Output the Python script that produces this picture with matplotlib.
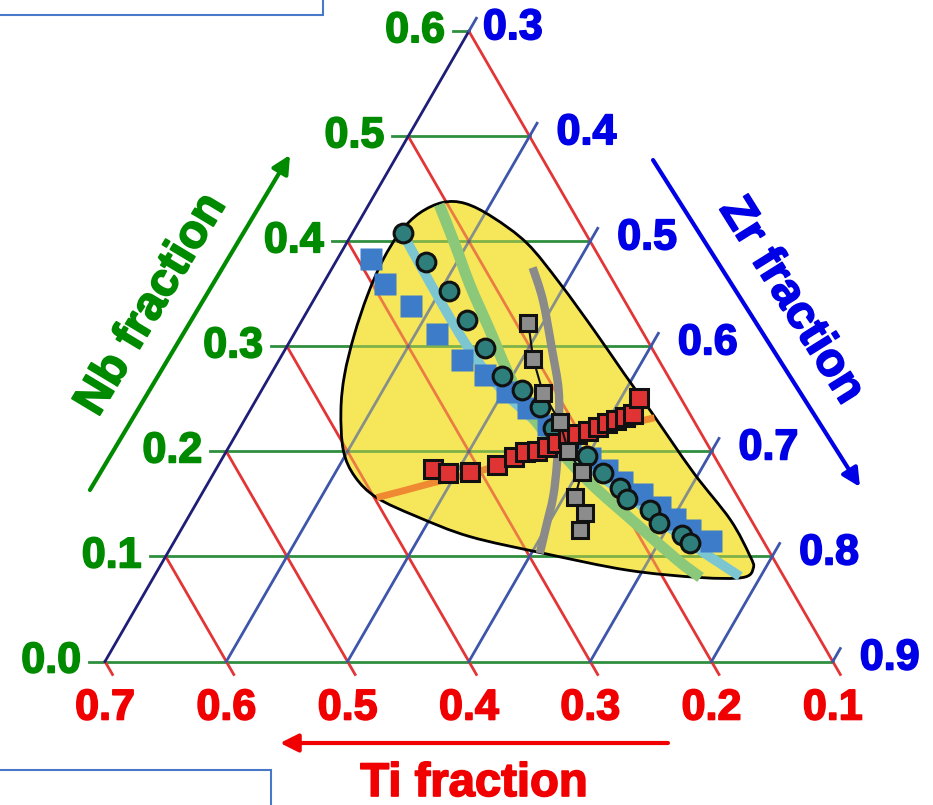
import numpy as np
import matplotlib.pyplot as plt
import matplotlib.patheffects as pe
from matplotlib.path import Path
from matplotlib.patches import PathPatch, Rectangle, FancyArrowPatch

plt.rcParams['font.family'] = ['Liberation Sans', 'DejaVu Sans']

# axis ticks (fractions)
ti_ticks = [0.7, 0.6, 0.5, 0.4, 0.3, 0.2, 0.1]
nb_ticks = [0.0, 0.1, 0.2, 0.3, 0.4, 0.5, 0.6]
zr_ticks = [0.3, 0.4, 0.5, 0.6, 0.7, 0.8, 0.9]

# compositions are given as (Ti, Nb); Zr is the balance
region_ti = [0.203, 0.185, 0.169, 0.153, 0.145, 0.139, 0.135, 0.131, 0.125, 0.117,
             0.118, 0.121, 0.134, 0.170, 0.226, 0.287, 0.340, 0.374, 0.398, 0.406,
             0.403, 0.386, 0.366, 0.339, 0.309, 0.280, 0.252, 0.227]
region_nb = [0.437, 0.436, 0.423, 0.398, 0.360, 0.314, 0.274, 0.239, 0.180, 0.135,
             0.101, 0.089, 0.080, 0.080, 0.087, 0.103, 0.119, 0.138, 0.156, 0.176,
             0.201, 0.239, 0.273, 0.311, 0.349, 0.382, 0.409, 0.427]

cyan_ti = [0.251, 0.252, 0.251, 0.244, 0.229, 0.208, 0.184, 0.160, 0.136]
cyan_nb = [0.406, 0.344, 0.297, 0.260, 0.225, 0.184, 0.149, 0.111, 0.081]

green_ti = [0.207, 0.213, 0.220, 0.225, 0.230, 0.232, 0.226, 0.215, 0.197, 0.180, 0.169]
green_nb = [0.435, 0.397, 0.358, 0.316, 0.278, 0.244, 0.206, 0.170, 0.132, 0.097, 0.080]

gray_ti = [0.160, 0.167, 0.183, 0.197, 0.216, 0.234, 0.252, 0.271, 0.290]
gray_nb = [0.375, 0.344, 0.297, 0.258, 0.220, 0.187, 0.157, 0.130, 0.103]

orange_ti = [0.398, 0.371, 0.345, 0.309, 0.281, 0.242, 0.183, 0.131]
orange_nb = [0.156, 0.163, 0.170, 0.179, 0.187, 0.199, 0.219, 0.232]

circ_ti = [0.250, 0.245, 0.240, 0.239, 0.238, 0.237, 0.227, 0.220, 0.220, 0.205,
           0.200, 0.193, 0.192, 0.179, 0.177, 0.164, 0.161]
circ_nb = [0.408, 0.380, 0.353, 0.325, 0.298, 0.272, 0.258, 0.242, 0.222, 0.196,
           0.179, 0.165, 0.155, 0.144, 0.132, 0.120, 0.113]

bsq_ti = [0.289, 0.290, 0.279, 0.270, 0.262, 0.250, 0.240, 0.231, 0.222, 0.212,
          0.203, 0.195, 0.188, 0.178, 0.169, 0.162, 0.155, 0.143]
bsq_nb = [0.383, 0.359, 0.338, 0.312, 0.287, 0.273, 0.257, 0.241, 0.225, 0.209,
          0.194, 0.182, 0.171, 0.159, 0.147, 0.136, 0.125, 0.115]

rsq_ti = [0.338, 0.328, 0.309, 0.283, 0.265, 0.254, 0.244, 0.234, 0.223, 0.212,
          0.202, 0.192, 0.182, 0.173, 0.164, 0.155, 0.147, 0.134]
rsq_nb = [0.183, 0.179, 0.180, 0.187, 0.195, 0.199, 0.200, 0.204, 0.208, 0.213,
          0.217, 0.219, 0.223, 0.227, 0.230, 0.233, 0.236, 0.251]

gsq_ti = [0.190, 0.203, 0.211, 0.211, 0.218, 0.217, 0.234, 0.234, 0.246]
gsq_nb = [0.322, 0.288, 0.256, 0.228, 0.200, 0.180, 0.157, 0.141, 0.125]

S3 = np.sqrt(3) / 2
PX = 1 / 1213.0   # one pixel in composition units

GREEN_LN, RED_LN, BLUE_LN, NAVY_LN = '#2f8f3f', '#e33535', '#3d55aa', '#1e1e78'
GREEN_TX, RED_TX, BLUE_TX = '#008a00', '#f00000', '#0000e6'


def tern(ti, nb):
    ti = np.asarray(ti, float)
    nb = np.asarray(nb, float)
    return 0.7 - ti - nb / 2, nb * S3


def smooth(ti, nb, closed=False):
    x, y = tern(ti, nb)
    p = np.column_stack([x, y])
    if closed:
        p = np.vstack([p[-1], p, p[0], p[1]])
    else:
        p = np.vstack([p[0], p, p[-1]])
    verts, codes = [p[1]], [Path.MOVETO]
    for i in range(1, len(p) - 2):
        c1 = p[i] + (p[i + 1] - p[i - 1]) / 6
        c2 = p[i + 1] - (p[i + 2] - p[i]) / 6
        verts += [c1, c2, p[i + 1]]
        codes += [Path.CURVE4] * 3
    return Path(verts, codes)


def draw_grid(ax, alpha=1.0, clip=None, z=1):
    arts = []
    down = np.array([0.5, -S3]) * 15 * PX
    up = np.array([0.5, S3]) * 15 * PX
    for nb in nb_ticks:
        x0, y0 = tern(0.7 - nb, nb)
        x1, y1 = tern(0.1, nb)
        arts += ax.plot([x0 - 16 * PX, x1], [y0, y1], color=GREEN_LN, lw=2, alpha=alpha, zorder=z)
    for ti in ti_ticks:
        x0, y0 = tern(ti, 0.7 - ti)
        x1, y1 = tern(ti, 0)
        arts += ax.plot([x0, x1 + down[0]], [y0, y1 + down[1]], color=RED_LN, lw=2,
                        alpha=alpha, zorder=z)
    for zr in zr_ticks:
        x0, y0 = tern(1 - zr, 0)
        x1, y1 = tern(0.1, 0.9 - zr)
        col = NAVY_LN if zr == zr_ticks[0] else BLUE_LN
        arts += ax.plot([x0, x1], [y0, y1], color=col, lw=2, alpha=alpha, zorder=z)
        arts += ax.plot([x1, x1 + up[0]], [y1, y1 + up[1]], color=BLUE_LN, lw=2,
                        alpha=alpha, zorder=z)
    if clip is not None:
        for a in arts:
            a.set_clip_path(clip)


def heavy(color):
    # thicken the bold glyphs a little
    return [pe.withStroke(linewidth=1.2, foreground=color)]


fig = plt.figure(figsize=(9.33, 8.05), dpi=100)
ax = fig.add_axes([0, 0, 1, 1])
ax.set_xlim(-105 * PX, 828 * PX)
ax.set_ylim(-143.5 * PX, 661.5 * PX)
ax.axis('off')

draw_grid(ax)

# yellow region, grid showing through it
region = PathPatch(smooth(region_ti, region_nb, closed=True), facecolor='#f6e75a',
                   edgecolor='none', zorder=2)
ax.add_patch(region)
draw_grid(ax, alpha=0.6, clip=region, z=2.5)
ax.add_patch(PathPatch(smooth(region_ti, region_nb, closed=True), facecolor='none',
                       edgecolor='black', lw=2, zorder=3))

# trend lines
for ti, nb, col, lw in [(orange_ti, orange_nb, '#f08a32', 5),
                        (cyan_ti, cyan_nb, '#7cc6d2', 7),
                        (green_ti, green_nb, '#8cc87a', 8),
                        (gray_ti, gray_nb, '#8a8a8a', 6)]:
    ax.add_patch(PathPatch(smooth(ti, nb), facecolor='none', edgecolor=col, lw=lw,
                           capstyle='butt', zorder=4))

# measured points
x, y = tern(bsq_ti, bsq_nb)
ax.plot(x, y, 's', ms=16, mfc='#3d7cc8', mec='none', zorder=5)
x, y = tern(circ_ti, circ_nb)
ax.plot(x, y, 'o', ms=13.5, mfc='#2e7f7b', mec='#111111', mew=2.2, zorder=6)
x, y = tern(rsq_ti, rsq_nb)
ax.plot(x, y, 's', ms=13.5, mfc='#e03434', mec='#111111', mew=2.2, zorder=7)
x, y = tern(gsq_ti, gsq_nb)
ax.plot(x, y, '-s', color='#111111', lw=1.5, ms=12, mfc='#8c8c8c', mec='#111111',
        mew=2.2, zorder=8)

# tick labels
tick_kw = dict(fontsize=31, fontweight='bold', va='center')
for nb in nb_ticks:
    x, y = tern(0.7 - nb, nb)
    ax.text(x - 24 * PX, y, f'{nb:.1f}', color=GREEN_TX, ha='right',
            path_effects=heavy(GREEN_TX), **tick_kw)
for ti in ti_ticks:
    x, y = tern(ti, 0)
    ax.text(x, y - 47 * PX, f'{ti:.1f}', color=RED_TX, ha='center',
            path_effects=heavy(RED_TX), **tick_kw)
for zr in zr_ticks:
    x, y = tern(0.1, 0.9 - zr)
    dx = 14 * PX if zr == zr_ticks[0] else 27 * PX
    ax.text(x + dx, y + 3 * PX, f'{zr:.1f}', color=BLUE_TX, ha='left',
            path_effects=heavy(BLUE_TX), **tick_kw)

# axis titles with direction arrows
arrow_kw = dict(arrowstyle='-|>,head_length=0.6,head_width=0.3', mutation_scale=18,
                lw=3, shrinkA=0, shrinkB=0, zorder=9)
ax.add_patch(FancyArrowPatch((-0.0124, 0.1414), (0.1525, 0.4176), color=GREEN_TX, **arrow_kw))
ax.add_patch(FancyArrowPatch((0.4518, 0.4134), (0.6224, 0.1439), color=BLUE_TX, **arrow_kw))
ax.add_patch(FancyArrowPatch((0.4641, -0.0672), (0.1443, -0.0672), color=RED_TX, **arrow_kw))

title_kw = dict(fontsize=34, fontweight='bold', ha='center', va='center', rotation_mode='anchor')
ax.text(0.0387, 0.2939, 'Nb fraction', color=GREEN_TX, rotation=59,
        path_effects=heavy(GREEN_TX), **title_kw)
ax.text(0.5655, 0.2972, 'Zr fraction', color=BLUE_TX, rotation=-58,
        path_effects=heavy(BLUE_TX), **title_kw)
ax.text(0.3042, -0.1010, 'Ti fraction', color=RED_TX,
        path_effects=heavy(RED_TX), **title_kw)

# neighbouring slide boxes at the edges
ax.add_patch(Rectangle((-0.01, 1 - 15 / 805), 323 / 933 + 0.01, 0.1, transform=ax.transAxes,
                       facecolor='white', edgecolor='#4a78c8', lw=1.5, clip_on=False))
ax.add_patch(Rectangle((-0.01, -0.1), 271 / 933 + 0.01, 0.1 + 35 / 805, transform=ax.transAxes,
                       facecolor='white', edgecolor='#4a78c8', lw=1.5, clip_on=False))

fig.savefig('out.png', dpi=100)
